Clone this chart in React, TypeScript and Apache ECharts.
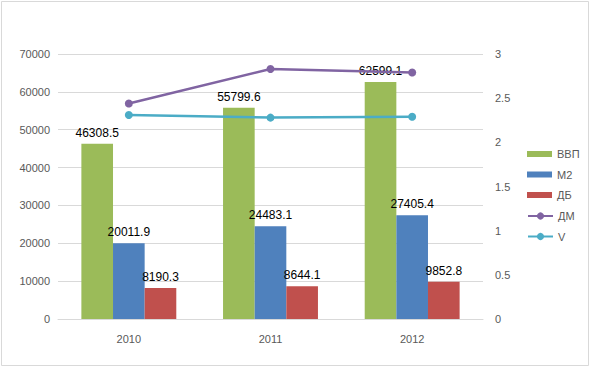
import React, { useEffect, useRef } from "react";
import * as echarts from "echarts";

const years = ["2010", "2011", "2012"];
const vvp = [46308.5, 55799.6, 62599.1];
const m2 = [20011.9, 24483.1, 27405.4];
const db = [8190.3, 8644.1, 9852.8];
const dm = [2.44, 2.83, 2.79];
const v = [2.31, 2.28, 2.29];

const FONT = "Liberation Sans";

export default function App() {
  const ref = useRef<HTMLDivElement>(null);
  useEffect(() => {
    const chart = echarts.init(ref.current!, null, { renderer: "svg" });
    const barLabel = {
      show: true,
      position: "top",
      distance: 5,
      color: "#000",
      fontSize: 12,
      fontFamily: FONT,
    };
    const legendText = { color: "#595959", fontSize: 11, fontFamily: FONT, lineHeight: 12 };
    chart.setOption({
      animation: false,
      backgroundColor: "#fff",
      textStyle: { fontFamily: FONT },
      graphic: [
        {
          type: "rect",
          shape: { x: 1.5, y: 1.5, width: 587, height: 364 },
          style: { fill: "none", stroke: "#d9d9d9", lineWidth: 1 },
          silent: true,
        },
      ],
      grid: { left: 58, right: 107, top: 54, bottom: 48 },
      legend: [
        {
          orient: "vertical",
          left: 527,
          top: 148,
          padding: 0,
          itemWidth: 25,
          itemHeight: 6,
          itemGap: 8.5,
          textStyle: legendText,
          data: [
            { name: "ВВП", icon: "rect" },
            { name: "М2", icon: "rect" },
            { name: "ДБ", icon: "rect" },
          ],
        },
        {
          orient: "vertical",
          left: 527,
          top: 210,
          padding: 0,
          itemWidth: 25,
          itemHeight: 9,
          itemGap: 8.5,
          textStyle: legendText,
          data: ["ДМ", "V"],
        },
      ],
      xAxis: {
        type: "category",
        data: years,
        axisLine: { show: true, lineStyle: { color: "#d9d9d9" } },
        axisTick: { show: false },
        axisLabel: { color: "#595959", fontSize: 11, margin: 14, fontFamily: FONT },
      },
      yAxis: [
        {
          type: "value",
          min: 0,
          max: 70000,
          interval: 10000,
          axisLine: { show: false, lineStyle: { color: "#595959" } },
          axisTick: { show: false },
          axisLabel: {
            color: "#595959",
            fontSize: 11,
            margin: 8,
            fontFamily: FONT,
            formatter: (val: number) => String(val),
          },
          splitLine: { lineStyle: { color: "#d9d9d9" } },
        },
        {
          type: "value",
          min: 0,
          max: 3,
          interval: 0.5,
          axisLine: { show: false, lineStyle: { color: "#595959" } },
          axisTick: { show: false },
          axisLabel: {
            color: "#595959",
            fontSize: 11,
            margin: 12,
            fontFamily: FONT,
            formatter: (val: number) => String(val),
          },
          splitLine: { show: false },
        },
      ],
      series: [
        {
          name: "ВВП",
          type: "bar",
          data: vvp,
          barGap: "0%",
          barCategoryGap: "33%",
          itemStyle: { color: "#9bbb59" },
          label: barLabel,
        },
        {
          name: "М2",
          type: "bar",
          data: m2,
          itemStyle: { color: "#4f81bd" },
          label: barLabel,
        },
        {
          name: "ДБ",
          type: "bar",
          data: db,
          itemStyle: { color: "#c0504d" },
          label: barLabel,
        },
        {
          name: "ДМ",
          type: "line",
          yAxisIndex: 1,
          data: dm,
          symbol: "circle",
          symbolSize: 8,
          lineStyle: { color: "#8064a2", width: 2.5 },
          itemStyle: { color: "#8064a2" },
        },
        {
          name: "V",
          type: "line",
          yAxisIndex: 1,
          data: v,
          symbol: "circle",
          symbolSize: 8,
          lineStyle: { color: "#4bacc6", width: 2.5 },
          itemStyle: { color: "#4bacc6" },
        },
      ],
    });
    return () => chart.dispose();
  }, []);
  return (
    <div
      ref={ref}
      style={{ position: "fixed", left: 0, top: 0, width: 590, height: 367 }}
    />
  );
}
